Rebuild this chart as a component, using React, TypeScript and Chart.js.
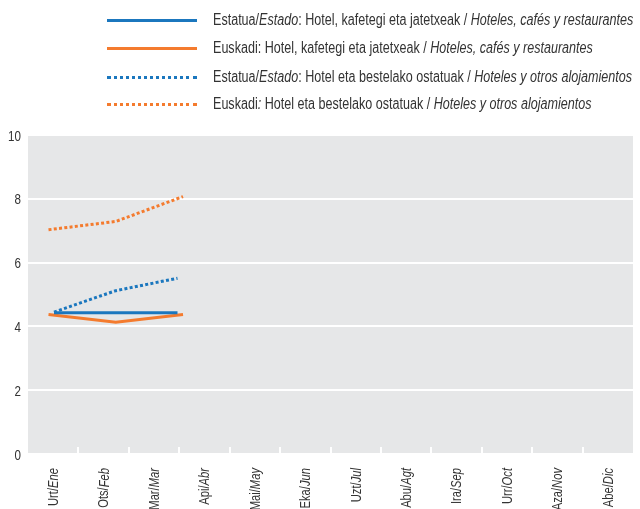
import React, { useEffect, useRef } from 'react';
import { Chart, registerables } from 'chart.js';

Chart.register(...registerables);

// ---- Data ----
const monthsEu = ['Urt', 'Ots', 'Mar', 'Api', 'Mai', 'Eka', 'Uzt', 'Abu', 'Ira', 'Urr', 'Aza', 'Abe'];
const monthsEs = ['Ene', 'Feb', 'Mar', 'Abr', 'May', 'Jun', 'Jul', 'Agt', 'Sep', 'Oct', 'Nov', 'Dic'];
const yTicks = [0, 2, 4, 6, 8, 10];

const estatuaHostelerSolid = [4.43, 4.43, 4.43]; // Estatua: Hotel, kafetegi eta jatetxeak
const euskadiHostelerSolid = [4.37, 4.13, 4.37]; // Euskadi: Hotel, kafetegi eta jatetxeak
const estatuaOstatuak = [4.45, 5.12, 5.51]; // Estatua: Hotel eta bestelako ostatuak
const euskadiOstatuak = [7.03, 7.29, 8.07]; // Euskadi: Hotel eta bestelako ostatuak

const BLUE = '#1b77be';
const ORANGE = '#f47b2e';
const FONT = '"Liberation Sans", Arial, sans-serif';
const TEXT = '#333333';
const NARROW = 0.8;
const LEGEND_NARROW = 0.785;

const legendItems = [
  { color: BLUE, dotted: false, parts: [['Estatua/', false], ['Estado', true], [': Hotel, kafetegi eta jatetxeak / ', false], ['Hoteles, cafés y restaurantes', true]] },
  { color: ORANGE, dotted: false, parts: [['Euskadi: Hotel, kafetegi eta jatetxeak / ', false], ['Hoteles, cafés y restaurantes', true]] },
  { color: BLUE, dotted: true, parts: [['Estatua/', false], ['Estado', true], [': Hotel eta bestelako ostatuak / ', false], ['Hoteles y otros alojamientos', true]] },
  { color: ORANGE, dotted: true, parts: [['Euskadi', false], [':', true], [' Hotel eta bestelako ostatuak / ', false], ['Hoteles y otros alojamientos', true]] },
];

const toPts = (arr: number[]) => arr.map((v, i) => ({ x: i, y: v }));

export default function App() {
  const ref = useRef<HTMLCanvasElement | null>(null);

  useEffect(() => {
    if (!ref.current) return;

    const bgPlugin = {
      id: 'bg',
      beforeDraw(chart: any) {
        const { ctx, chartArea } = chart;
        ctx.save();
        ctx.fillStyle = '#e6e7e8';
        ctx.fillRect(chartArea.left, chartArea.top, chartArea.right - chartArea.left, chartArea.bottom - chartArea.top);
        ctx.restore();
      },
      beforeDatasetsDraw(chart: any) {
        const { ctx, chartArea } = chart;
        const xs = chart.scales.x;
        ctx.save();
        ctx.strokeStyle = '#ffffff';
        ctx.lineWidth = 2;
        for (let k = 0; k < monthsEu.length - 1; k++) {
          const px = Math.round((xs.getPixelForValue(k) + xs.getPixelForValue(k + 1)) / 2);
          ctx.beginPath();
          ctx.moveTo(px, chartArea.bottom - 7);
          ctx.lineTo(px, chartArea.bottom);
          ctx.stroke();
        }
        ctx.restore();
      },
      afterDraw(chart: any) {
        const { ctx, chartArea } = chart;
        const xs = chart.scales.x;
        const ys = chart.scales.y;
        ctx.save();
        ctx.fillStyle = TEXT;
        // y tick labels
        ctx.textBaseline = 'middle';
        ctx.textAlign = 'right';
        ctx.font = `14.5px ${FONT}`;
        for (const v of yTicks) {
          const y = ys.getPixelForValue(v);
          ctx.save();
          ctx.translate(21, y + 1.5);
          ctx.scale(NARROW, 1);
          ctx.fillText(String(v), 0, 0);
          ctx.restore();
        }
        // x tick labels (rotated, mixed styles)
        ctx.textAlign = 'left';
        const regular = `14px ${FONT}`;
        const italic = `italic 14px ${FONT}`;
        for (let i = 0; i < monthsEu.length; i++) {
          const a = monthsEu[i] + '/';
          const b = monthsEs[i];
          ctx.font = regular;
          const wa = ctx.measureText(a).width * NARROW;
          ctx.font = italic;
          const wb = ctx.measureText(b).width * NARROW;
          const x = xs.getPixelForValue(i) + 1;
          ctx.save();
          ctx.translate(x, chartArea.bottom + 14);
          ctx.rotate(-Math.PI / 2);
          ctx.scale(NARROW, 1);
          ctx.font = regular;
          ctx.fillText(a, -(wa + wb) / NARROW, 0);
          ctx.font = italic;
          ctx.fillText(b, -wb / NARROW, 0);
          ctx.restore();
        }
        ctx.restore();
      },
    };

    const chart = new Chart(ref.current, {
      type: 'line',
      data: {
        labels: monthsEu.map((m, i) => `${m}/${monthsEs[i]}`),
        datasets: [
          {
            label: 'Euskadi: Hotel eta bestelako ostatuak',
            data: toPts(euskadiOstatuak),
            xAxisID: 'xO',
            borderColor: ORANGE,
            borderWidth: 3,
            borderDash: [3, 2.3],
            pointRadius: 0,
            tension: 0,
            fill: false,
          },
          {
            label: 'Estatua: Hotel eta bestelako ostatuak',
            data: toPts(estatuaOstatuak),
            xAxisID: 'xB',
            borderColor: BLUE,
            borderWidth: 3,
            borderDash: [3, 2.3],
            pointRadius: 0,
            tension: 0,
            fill: false,
          },
          {
            label: 'Estatua: Hotel, kafetegi eta jatetxeak',
            data: toPts(estatuaHostelerSolid),
            xAxisID: 'xB',
            borderColor: BLUE,
            borderWidth: 3,
            pointRadius: 0,
            tension: 0,
            fill: false,
          },
          {
            label: 'Euskadi: Hotel, kafetegi eta jatetxeak',
            data: toPts(euskadiHostelerSolid),
            xAxisID: 'xO',
            borderColor: ORANGE,
            borderWidth: 3,
            pointRadius: 0,
            tension: 0,
            fill: false,
          },
        ],
      },
      options: {
        animation: false,
        responsive: false,
        maintainAspectRatio: false,
        layout: { padding: { top: 135, right: 7, left: 0, bottom: 0 } },
        plugins: { legend: { display: false }, tooltip: { enabled: false } },
        scales: {
          x: {
            type: 'category',
            offset: true,
            grid: { display: false },
            border: { display: false },
            ticks: { display: false },
            afterFit: (s: any) => { s.height = 55; },
          },
          xO: { type: 'linear', display: false, min: -0.305, max: 8.69 },
          xB: { type: 'linear', display: false, min: -0.421, max: 9.377 },
          y: {
            min: 0,
            max: 10,
            afterBuildTicks: (s: any) => { s.ticks = yTicks.map((v) => ({ value: v })); },
            grid: { color: '#ffffff', lineWidth: 2, drawTicks: false },
            border: { display: false },
            ticks: { display: false },
            afterFit: (s: any) => { s.width = 28; },
          },
        },
      },
      plugins: [bgPlugin],
    } as any);

    return () => chart.destroy();
  }, []);

  return (
    <div style={{ position: 'relative', width: 640, height: 509, overflow: 'hidden', background: '#fff' }}>
      <style>{`body{margin:0}`}</style>
      <canvas ref={ref} width={640} height={509} style={{ position: 'absolute', left: 0, top: 0, width: 640, height: 509 }} />
      {legendItems.map((it, i) => (
        <div
          key={i}
          style={{
            position: 'absolute',
            left: 107,
            top: [20, 48, 77, 104][i] - 10,
            height: 20,
            display: 'flex',
            alignItems: 'center',
            whiteSpace: 'nowrap',
          }}
        >
          <span
            style={{
              display: 'inline-block',
              width: 90,
              height: 0,
              borderTop: `3px ${it.dotted ? 'dotted' : 'solid'} ${it.color}`,
              marginRight: 16,
            }}
          />
          <span
            style={{
              display: 'inline-block',
              fontFamily: FONT,
              fontSize: 16,
              color: TEXT,
              transform: `scaleX(${LEGEND_NARROW})`,
              transformOrigin: 'left center',
            }}
          >
            {it.parts.map(([t, ital], j) => (
              <span key={j} style={{ fontStyle: ital ? 'italic' : 'normal' }}>{t as string}</span>
            ))}
          </span>
        </div>
      ))}
    </div>
  );
}
